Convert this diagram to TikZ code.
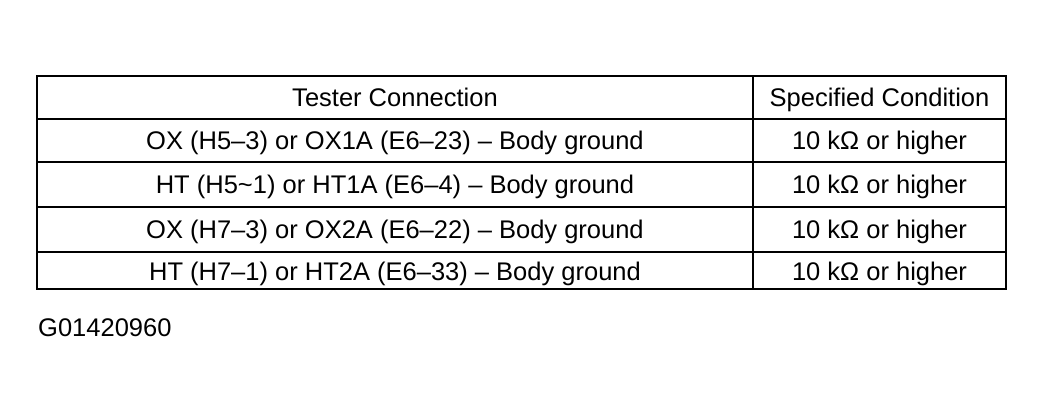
\documentclass[tikz,border=0pt]{standalone}
\usepackage{fontspec}
\setmainfont{Liberation Sans}

\begin{document}
\begin{tikzpicture}[x=1pt,y=-1pt,cell node/.style={font=\fontsize{25.5}{30}\selectfont,inner sep=0pt,anchor=base},frame line/.style={line width=1.6pt},row line/.style={line width=2.4pt}]
                \useasboundingbox (0,0) rectangle (1044,410);
                \coordinate (tl) at (37,76);
                \coordinate (br) at (1006,289);
                \coordinate (ct) at (753,76);
                \coordinate (cb) at (753,289);
                \draw[frame line] (tl) rectangle (br);
                \foreach \y in {119,162,207,252}
                    \draw[row line] (37,\y) -- (1006,\y);
                \draw[row line] (ct) -- (cb);

                \node[cell node] (h1) at (395,106.5) {Tester Connection};
                \node[cell node] (h2) at (879.5,106.5) {Specified Condition};
                \node[cell node] (t1) at (395,149.5) {OX (H5–3) or OX1A (E6–23) – Body ground};
                \node[cell node] (c1) at (879.5,149.5) {10 k\symbol{"03A9} or higher};
                \node[cell node] (t2) at (395,193.5) {HT (H5\textasciitilde1) or HT1A (E6–4) – Body ground};
                \node[cell node] (c2) at (879.5,193.5) {10 k\symbol{"03A9} or higher};
                \node[cell node] (t3) at (395,238.5) {OX (H7–3) or OX2A (E6–22) – Body ground};
                \node[cell node] (c3) at (879.5,238.5) {10 k\symbol{"03A9} or higher};
                \node[cell node] (t4) at (395,280) {HT (H7–1) or HT2A (E6–33) – Body ground};
                \node[cell node] (c4) at (879.5,280) {10 k\symbol{"03A9} or higher};
                \node[cell node,anchor=base west] (code) at (38,336) {G01420960};
            \end{tikzpicture}
\end{document}
